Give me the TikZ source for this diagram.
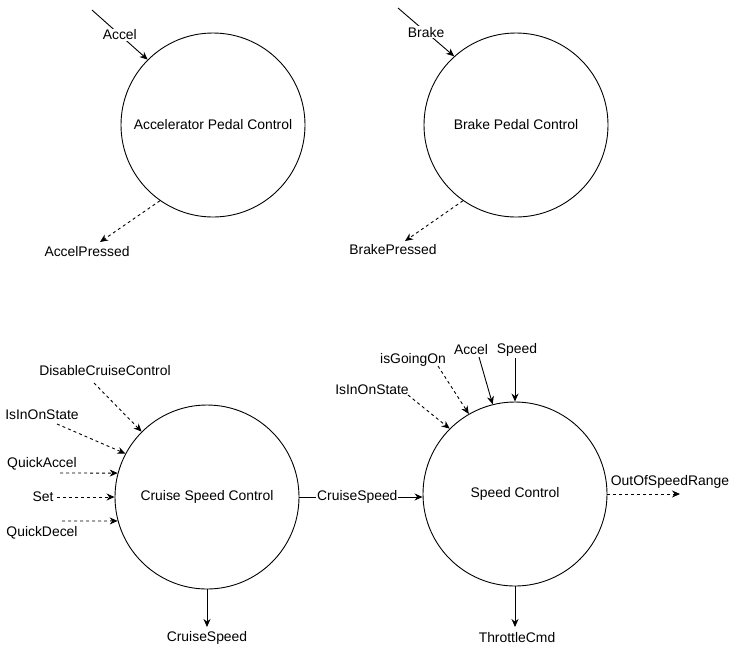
\documentclass[tikz,border=0pt]{standalone}
\usepackage{fontspec}
\setmainfont{Liberation Sans}
\usetikzlibrary{arrows.meta}
\begin{document}
\begin{tikzpicture}[x=1pt,y=-1pt,
  proc/.style={circle,draw,line width=0.9pt,minimum size=184pt,inner sep=0pt,
    font=\fontsize{13.9}{16}\selectfont},
  lbl/.style={inner sep=1pt,font=\fontsize{13.9}{16}\selectfont},
  flow/.style={line width=0.9pt,-{Stealth[length=8pt,width=7pt]}},
  dsh/.style={flow,dash pattern=on 3pt off 3pt},
  onlbl/.style={lbl,fill=white}]
\useasboundingbox (0,0) rectangle (738,649);

% processes
\node[proc] (apc) at (213,125) {Accelerator Pedal Control};
\node[proc] (bpc) at (516,125) {Brake Pedal Control};
\node[proc] (csc) at (207,497) {Cruise Speed Control};
\node[proc] (spc) at (515,494) {Speed Control};

% accelerator pedal
\coordinate (accIn) at (92,10);
\draw[flow] (accIn) -- node[onlbl] (accLbl) {Accel} (apc.135);
\node[lbl] (accP) at (87,252) {AccelPressed};
\coordinate (accPt) at (100,242);
\draw[dsh] (apc.235) -- (accPt);

% brake pedal
\coordinate (brkIn) at (398,8);
\draw[flow] (brkIn) -- node[onlbl] (brkLbl) {Brake} (bpc.132);
\node[lbl] (brkP) at (393,250) {BrakePressed};
\coordinate (brkPt) at (405,241);
\draw[dsh] (bpc.235) -- (brkPt);

% cruise speed control inputs
\node[lbl] (dcc) at (105,371) {DisableCruiseControl};
\coordinate (dcc0) at (94,383);
\draw[dsh] (dcc0) -- (csc.135);
\node[lbl] (iosA) at (42,415) {IsInOnState};
\coordinate (iosA0) at (57,424);
\draw[dsh] (iosA0) -- (csc.152);
\node[lbl] (qa) at (42,464) {QuickAccel};
\coordinate (qa0) at (60,473);
\draw[dsh] (qa0) -- (csc.165);
\node[lbl] (set) at (43,497) {Set};
\coordinate (set0) at (57,497);
\draw[dsh] (set0) -- (csc.west);
\node[lbl] (qd) at (42,533) {QuickDecel};
\coordinate (qd0) at (62,521);
\draw[dsh] (qd0) -- (csc.195);

% cruise speed outputs
\node[lbl] (cso) at (207,638) {CruiseSpeed};
\coordinate (cso0) at (207,627);
\draw[flow] (csc.south) -- (cso0);
\draw[flow] (csc.east) -- node[onlbl,pos=0.47] (csLbl) {CruiseSpeed} (csc.east -| spc.west);

% speed control inputs
\node[lbl] (iosB) at (372,390) {IsInOnState};
\coordinate (iosB0) at (408,395);
\draw[dsh] (iosB0) -- (spc.135);
\node[lbl] (igo) at (413,360) {isGoingOn};
\coordinate (igo0) at (438,366);
\draw[dsh] (igo0) -- (spc.120);
\node[lbl] (sacc) at (471,350) {Accel};
\coordinate (sacc0) at (479,357);
\draw[flow] (sacc0) -- (spc.104);
\node[lbl] (spd) at (517,350) {Speed};
\coordinate (spd0) at (515,358);
\draw[flow] (spd0) -- (spc.north);

% speed control outputs
\node[lbl] (oosr) at (670,482) {OutOfSpeedRange};
\coordinate (oosr0) at (680,494);
\draw[dsh] (spc.east) -- (oosr0);
\node[lbl] (thr) at (517,638) {ThrottleCmd};
\coordinate (thr0) at (515,627);
\draw[flow] (spc.south) -- (thr0);
\end{tikzpicture}
\end{document}
